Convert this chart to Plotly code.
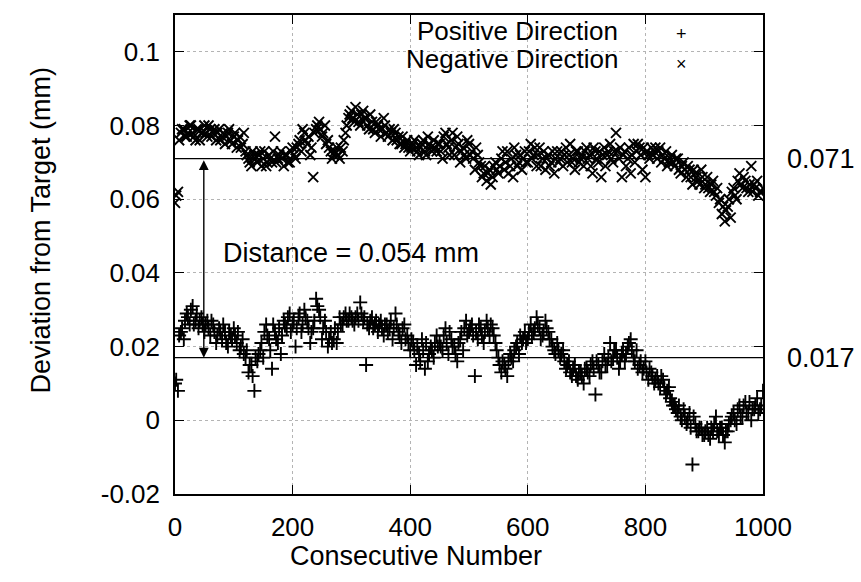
import plotly.graph_objects as go

# ---------------- data ----------------
x_step = 5
x_end = 1000
x_start_a = 0   # first sample set: 0, 5, ..., 1000
x_start_b = 2   # second sample set: 2, 7, ..., 997

neg_dir_a = [
    0.059, 0.062, 0.078, 0.079, 0.077, 0.080, 0.078, 0.076, 0.079, 0.078,
    0.080, 0.077, 0.079, 0.078, 0.076, 0.079, 0.077, 0.075, 0.078, 0.076,
    0.077, 0.074, 0.077, 0.075, 0.073, 0.071, 0.069, 0.072, 0.070, 0.073,
    0.071, 0.069, 0.072, 0.070, 0.077, 0.071, 0.073, 0.069, 0.072, 0.070,
    0.074, 0.071, 0.075, 0.073, 0.078, 0.075, 0.072, 0.066, 0.079, 0.081,
    0.077, 0.080, 0.076, 0.073, 0.072, 0.074, 0.071, 0.073, 0.078, 0.082,
    0.084, 0.081, 0.083, 0.080, 0.084, 0.082, 0.079, 0.081, 0.078, 0.080,
    0.077, 0.082, 0.078, 0.079, 0.076, 0.078, 0.077, 0.075, 0.074, 0.076,
    0.073, 0.075, 0.074, 0.072, 0.075, 0.073, 0.077, 0.074, 0.076, 0.073,
    0.075, 0.071, 0.078, 0.074, 0.076, 0.072, 0.077, 0.070, 0.074, 0.071,
    0.075, 0.073, 0.068, 0.072, 0.069, 0.067, 0.065, 0.068, 0.066, 0.070,
    0.067, 0.071, 0.068, 0.073, 0.069, 0.066, 0.072, 0.070, 0.068, 0.073,
    0.070, 0.075, 0.072, 0.069, 0.074, 0.071, 0.068, 0.072, 0.070, 0.067,
    0.073, 0.071, 0.069, 0.074, 0.072, 0.070, 0.068, 0.073, 0.071, 0.069,
    0.074, 0.072, 0.067, 0.073, 0.070, 0.066, 0.074, 0.072, 0.075, 0.070,
    0.078, 0.071, 0.066, 0.073, 0.071, 0.067, 0.075, 0.073, 0.074, 0.068,
    0.066, 0.072, 0.074, 0.073, 0.071, 0.074, 0.072, 0.073, 0.070, 0.072,
    0.069, 0.071, 0.067, 0.070, 0.066, 0.068, 0.064, 0.067, 0.065, 0.068,
    0.063, 0.066, 0.062, 0.065, 0.061, 0.059, 0.056, 0.054, 0.058, 0.055,
    0.063, 0.060, 0.067, 0.063, 0.065, 0.062, 0.069, 0.064, 0.065, 0.062,
    0.063,
]
neg_dir_b = [
    0.061, 0.076, 0.079, 0.077, 0.078, 0.080, 0.077, 0.079, 0.076, 0.078,
    0.078, 0.080, 0.077, 0.079, 0.078, 0.076, 0.078, 0.077, 0.079, 0.075,
    0.078, 0.076, 0.074, 0.078, 0.072, 0.070, 0.073, 0.071, 0.072, 0.069,
    0.073, 0.070, 0.071, 0.073, 0.070, 0.072, 0.071, 0.072, 0.070, 0.073,
    0.072, 0.074, 0.076, 0.079, 0.076, 0.077, 0.074, 0.078, 0.080, 0.079,
    0.078, 0.075, 0.074, 0.071, 0.073, 0.072, 0.074, 0.076, 0.080, 0.083,
    0.082, 0.085, 0.081, 0.083, 0.082, 0.080, 0.083, 0.079, 0.081, 0.079,
    0.079, 0.080, 0.077, 0.078, 0.079, 0.076, 0.075, 0.077, 0.075, 0.074,
    0.074, 0.076, 0.073, 0.074, 0.076, 0.072, 0.075, 0.073, 0.074, 0.075,
    0.073, 0.077, 0.075, 0.072, 0.078, 0.074, 0.075, 0.073, 0.072, 0.076,
    0.072, 0.071, 0.074, 0.070, 0.066, 0.069, 0.067, 0.064, 0.069, 0.068,
    0.069, 0.073, 0.070, 0.067, 0.071, 0.074, 0.069, 0.072, 0.071, 0.070,
    0.073, 0.071, 0.074, 0.072, 0.069, 0.073, 0.071, 0.069, 0.073, 0.071,
    0.070, 0.073, 0.072, 0.070, 0.075, 0.071, 0.073, 0.070, 0.072, 0.073,
    0.071, 0.069, 0.074, 0.071, 0.073, 0.072, 0.069, 0.073, 0.071, 0.073,
    0.073, 0.074, 0.072, 0.069, 0.074, 0.072, 0.070, 0.075, 0.072, 0.074,
    0.073, 0.071, 0.072, 0.074, 0.073, 0.070, 0.071, 0.069, 0.071, 0.070,
    0.071, 0.068, 0.069, 0.068, 0.069, 0.066, 0.068, 0.066, 0.064, 0.066,
    0.064, 0.063, 0.064, 0.062, 0.063, 0.060, 0.058, 0.057, 0.060, 0.062,
    0.061, 0.065, 0.064, 0.066, 0.063, 0.064, 0.062, 0.063, 0.061, 0.062,
]

pos_dir_a = [
    0.010, 0.008, 0.024, 0.022, 0.029, 0.026, 0.031, 0.027, 0.025, 0.028,
    0.024, 0.027, 0.023, 0.026, 0.021, 0.025, 0.022, 0.024, 0.020, 0.023,
    0.025, 0.021, 0.019, 0.022, 0.017, 0.013, 0.015, 0.008, 0.016, 0.019,
    0.017, 0.026, 0.022, 0.014, 0.024, 0.021, 0.018, 0.027, 0.025, 0.029,
    0.026, 0.020, 0.028, 0.024, 0.030, 0.027, 0.021, 0.025, 0.033, 0.030,
    0.022, 0.027, 0.020, 0.024, 0.022, 0.021, 0.028, 0.026, 0.029, 0.027,
    0.028, 0.026, 0.029, 0.032, 0.027, 0.015, 0.025, 0.028, 0.026, 0.024,
    0.027, 0.023, 0.026, 0.025, 0.022, 0.029, 0.024, 0.021, 0.026, 0.023,
    0.019, 0.021, 0.015, 0.018, 0.022, 0.014, 0.016, 0.020, 0.017, 0.023,
    0.021, 0.019, 0.025, 0.018, 0.022, 0.020, 0.016, 0.022, 0.019, 0.027,
    0.024, 0.026, 0.012, 0.022, 0.025, 0.021, 0.027, 0.023, 0.025, 0.021,
    0.017, 0.013, 0.015, 0.012, 0.018, 0.016, 0.020, 0.018, 0.021, 0.024,
    0.022, 0.026, 0.024, 0.028, 0.025, 0.023, 0.027, 0.024, 0.022, 0.019,
    0.021, 0.017, 0.019, 0.014, 0.016, 0.012, 0.015, 0.011, 0.013, 0.010,
    0.014, 0.012, 0.016, 0.007, 0.015, 0.013, 0.018, 0.015, 0.021, 0.017,
    0.019, 0.014, 0.018, 0.016, 0.020, 0.022, 0.017, 0.019, 0.015, 0.013,
    0.016, 0.011, 0.013, 0.010, 0.012, 0.009, 0.011, 0.007, 0.009, 0.005,
    0.004, 0.002, 0.001, 0.003, -0.001, 0.002, -0.012, -0.001, -0.003, -0.002,
    -0.004, -0.002, -0.005, -0.003, 0.001, -0.004, -0.002, -0.006, -0.003, 0.000,
    0.002, -0.001, 0.004, 0.001, 0.005, 0.002, 0.000, 0.003, 0.006, 0.003,
    0.008,
]
pos_dir_b = [
    0.011, 0.023, 0.025, 0.027, 0.028, 0.030, 0.026, 0.029, 0.027, 0.026,
    0.026, 0.025, 0.027, 0.024, 0.023, 0.024, 0.026, 0.021, 0.024, 0.022,
    0.023, 0.024, 0.020, 0.018, 0.019, 0.015, 0.012, 0.017, 0.018, 0.021,
    0.024, 0.023, 0.019, 0.026, 0.022, 0.025, 0.023, 0.026, 0.028, 0.024,
    0.027, 0.025, 0.029, 0.026, 0.028, 0.025, 0.024, 0.027, 0.031, 0.028,
    0.025, 0.024, 0.022, 0.021, 0.025, 0.024, 0.026, 0.028, 0.027, 0.029,
    0.027, 0.028, 0.027, 0.029, 0.028, 0.026, 0.027, 0.025, 0.027, 0.026,
    0.025, 0.026, 0.024, 0.027, 0.025, 0.026, 0.023, 0.025, 0.022, 0.021,
    0.022, 0.019, 0.020, 0.016, 0.019, 0.021, 0.018, 0.019, 0.021, 0.020,
    0.020, 0.023, 0.021, 0.024, 0.020, 0.018, 0.021, 0.024, 0.025, 0.023,
    0.025, 0.023, 0.024, 0.026, 0.023, 0.024, 0.025, 0.026, 0.023, 0.019,
    0.015, 0.016, 0.014, 0.016, 0.017, 0.019, 0.021, 0.023, 0.022, 0.021,
    0.024, 0.023, 0.025, 0.026, 0.022, 0.024, 0.025, 0.022, 0.020, 0.018,
    0.019, 0.018, 0.016, 0.015, 0.013, 0.014, 0.012, 0.013, 0.012, 0.014,
    0.013, 0.015, 0.014, 0.016, 0.013, 0.016, 0.015, 0.017, 0.016, 0.019,
    0.017, 0.016, 0.019, 0.018, 0.021, 0.019, 0.016, 0.014, 0.016, 0.014,
    0.013, 0.014, 0.012, 0.011, 0.010, 0.012, 0.009, 0.008, 0.006, 0.004,
    0.003, 0.004, 0.000, 0.001, 0.000, -0.002, 0.001, -0.003, -0.002, -0.004,
    -0.003, -0.004, -0.002, -0.001, -0.003, -0.002, -0.004, -0.003, -0.001, 0.001,
    0.000, 0.003, 0.001, 0.004, 0.002, 0.005, 0.003, 0.004, 0.002, 0.004,
]

x_a = list(range(x_start_a, x_end + 1, x_step))
x_b = list(range(x_start_b, x_end, x_step))

levels = [0.071, 0.017]
level_labels = ["0.071", "0.017"]
arrow_x = 49
distance_label = "Distance = 0.054 mm"
distance_pos = (78, 0.0455)

y_ticks = [-0.02, 0, 0.02, 0.04, 0.06, 0.08, 0.1]
y_tick_text = ["-0.02", "0", "0.02", "0.04", "0.06", "0.08", "0.1"]
x_ticks = [0, 200, 400, 600, 800, 1000]
x_tick_text = ["0", "200", "400", "600", "800", "1000"]

series_names = ["Positive Direction", "Negative Direction"]

# ---------------- figure ----------------
FONT = "Liberation Sans, Arial, Helvetica, sans-serif"
FS_TICK = 26
FS_TEXT = 27
FS_LEG = 26

pos_marker = dict(symbol="cross-thin-open", size=10, color="black",
                  line=dict(width=1.9, color="black"))
neg_marker = dict(symbol="x-thin-open", size=10, color="black",
                  line=dict(width=1.9, color="black"))

fig = go.Figure()
fig.add_trace(go.Scatter(x=x_a + x_b, y=pos_dir_a + pos_dir_b, mode="markers",
                         name=series_names[0], marker=pos_marker,
                         showlegend=False))
fig.add_trace(go.Scatter(x=x_a + x_b, y=neg_dir_a + neg_dir_b, mode="markers",
                         name=series_names[1], marker=neg_marker,
                         showlegend=False))

for lv, lt in zip(levels, level_labels):
    fig.add_shape(type="line", xref="x", yref="y", x0=0, x1=x_end,
                  y0=lv, y1=lv, line=dict(color="black", width=1.3))
    fig.add_annotation(x=1.037, xref="paper", y=lv, yref="y", text=lt,
                       showarrow=False, xanchor="left", yanchor="middle",
                       font=dict(family=FONT, size=FS_TEXT, color="black"))

# double arrow
fig.add_annotation(x=arrow_x, y=levels[1], ax=arrow_x, ay=levels[0],
                   xref="x", yref="y", axref="x", ayref="y", text="",
                   showarrow=True, arrowhead=2, arrowside="end+start",
                   arrowsize=1.4, arrowwidth=1.4, arrowcolor="black",
                   standoff=0, startstandoff=0)

fig.add_annotation(x=distance_pos[0], y=distance_pos[1], xref="x", yref="y",
                   text=distance_label, showarrow=False, xanchor="left",
                   yanchor="middle",
                   font=dict(family=FONT, size=FS_TEXT, color="black"))

# legend (text right-aligned, symbol to the right)
fig.add_annotation(x=0.757, y=0.966, xref="paper", yref="paper",
                   text=series_names[0], showarrow=False, xanchor="right",
                   yanchor="middle", font=dict(family=FONT, size=FS_LEG, color="black"))
fig.add_annotation(x=0.757, y=0.908, xref="paper", yref="paper",
                   text=series_names[1], showarrow=False, xanchor="right",
                   yanchor="middle", font=dict(family=FONT, size=FS_LEG, color="black"))
fig.add_annotation(x=0.862, y=0.960, xref="paper", yref="paper",
                   text="+", showarrow=False, xanchor="center",
                   yanchor="middle", font=dict(family=FONT, size=18, color="black"))
fig.add_annotation(x=0.862, y=0.898, xref="paper", yref="paper",
                   text="×", showarrow=False, xanchor="center",
                   yanchor="middle", font=dict(family=FONT, size=18, color="black"))

# axis titles
fig.add_annotation(x=0.41, y=-0.13, xref="paper", yref="paper",
                   text="Consecutive Number", showarrow=False,
                   xanchor="center", yanchor="middle",
                   font=dict(family=FONT, size=FS_TEXT, color="black"))
fig.add_annotation(x=-0.228, y=0.552, xref="paper", yref="paper",
                   text="Deviation from Target (mm)", showarrow=False,
                   textangle=-90, xanchor="center", yanchor="middle",
                   font=dict(family=FONT, size=FS_TEXT, color="black"))

axis_common = dict(
    showline=True, linecolor="black", linewidth=1.6, mirror="ticks",
    ticks="inside", ticklen=9, tickwidth=1.4, tickcolor="black",
    showgrid=True, gridcolor="#b4b4b4", gridwidth=1, griddash="dot",
    zeroline=False,
    tickfont=dict(family=FONT, size=FS_TICK, color="black"),
)

fig.update_xaxes(range=[0, x_end], tickvals=x_ticks, ticktext=x_tick_text,
                 ticklabelstandoff=9, **axis_common)
fig.update_yaxes(range=[-0.02, 0.11], tickvals=y_ticks, ticktext=y_tick_text,
                 ticklabelstandoff=8, **axis_common)

fig.update_layout(
    width=861, height=582,
    margin=dict(l=175, r=98, t=15, b=88),
    paper_bgcolor="white", plot_bgcolor="white",
    font=dict(family=FONT, size=FS_TICK, color="black"),
    showlegend=False,
)

fig.write_html("out.html")
